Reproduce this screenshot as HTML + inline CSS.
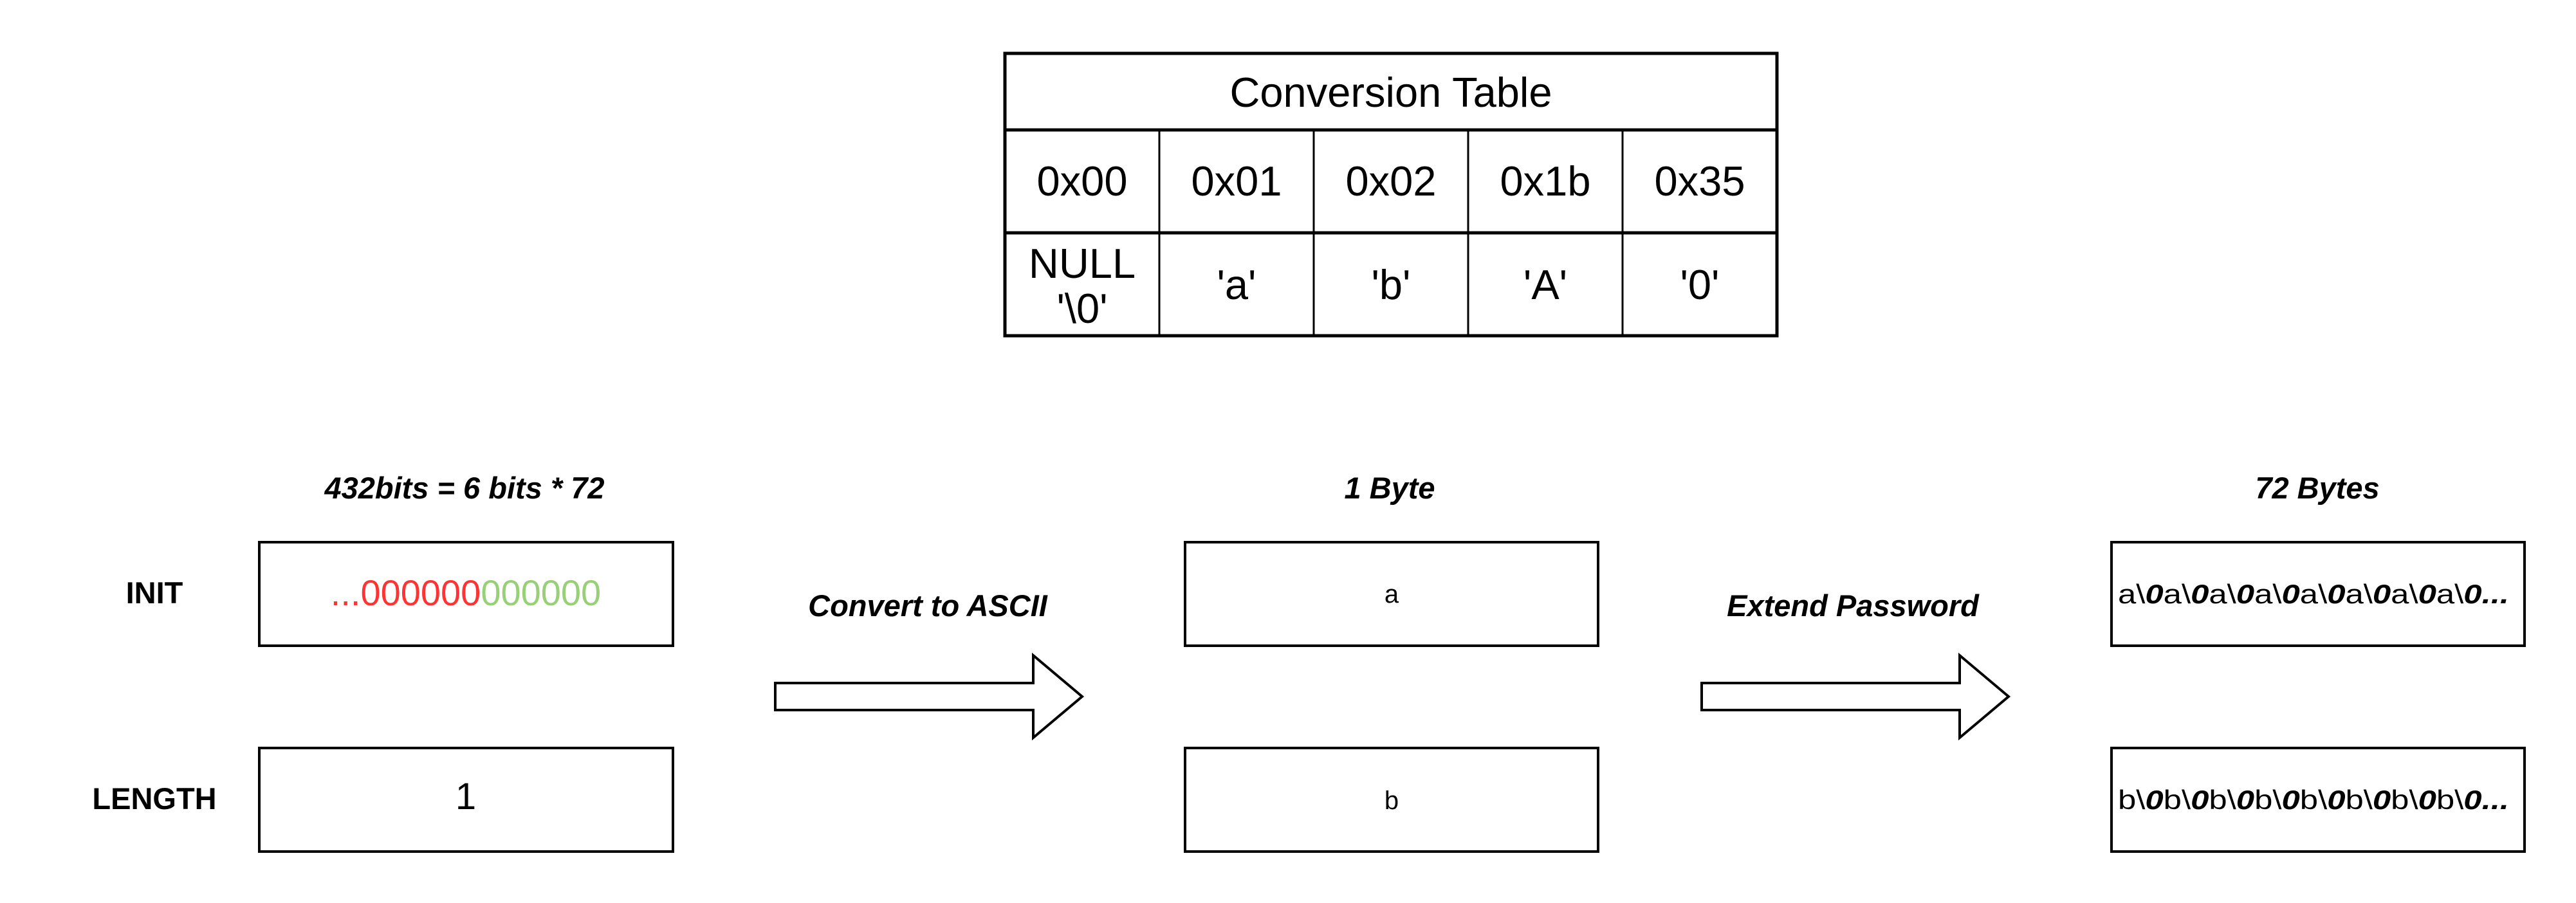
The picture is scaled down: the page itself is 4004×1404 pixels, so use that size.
<!DOCTYPE html>
<html><head><meta charset="utf-8"><style>
html,body{margin:0;padding:0;background:#fff;}
svg{display:block;}
text{font-family:"Liberation Sans",Arial,sans-serif;}
</style></head><body>
<svg width="4004" height="1404" viewBox="0 0 4004 1404" xmlns="http://www.w3.org/2000/svg">
<rect width="4004" height="1404" fill="#fff"/>
<g stroke="#000" fill="none">
<rect x="1562" y="83" width="1200" height="439" stroke-width="5"/>
<line x1="1562" y1="202" x2="2762" y2="202" stroke-width="5"/>
<line x1="1562" y1="362" x2="2762" y2="362" stroke-width="5"/>
<line x1="1802" y1="202" x2="1802" y2="522" stroke-width="3"/>
<line x1="2042" y1="202" x2="2042" y2="522" stroke-width="3"/>
<line x1="2282" y1="202" x2="2282" y2="522" stroke-width="3"/>
<line x1="2522" y1="202" x2="2522" y2="522" stroke-width="3"/>
</g>
<g font-size="65" text-anchor="middle" fill="#000">
<text x="2162" y="166">Conversion Table</text>
<text x="1682" y="304">0x00</text>
<text x="1922" y="304">0x01</text>
<text x="2162" y="304">0x02</text>
<text x="2402" y="304">0x1b</text>
<text x="2642" y="304">0x35</text>
<text x="1682" y="432">NULL</text>
<text x="1682" y="502">'\0'</text>
<text x="1922" y="465">'a'</text>
<text x="2162" y="465">'b'</text>
<text x="2402" y="465">'A'</text>
<text x="2642" y="465">'0'</text>
</g>
<g font-size="47" font-weight="bold" font-style="italic" text-anchor="middle" fill="#000">
<text x="722" y="775">432bits = 6 bits * 72</text>
<text x="2160" y="775">1 Byte</text>
<text x="3602" y="775">72 Bytes</text>
<text x="1442" y="958">Convert to ASCII</text>
<text x="2880" y="958">Extend Password</text>
</g>
<g font-size="47" font-weight="bold" text-anchor="middle" fill="#000">
<text x="240" y="938">INIT</text>
<text x="240" y="1258">LENGTH</text>
</g>
<g stroke="#000" stroke-width="4" fill="#fff">
<rect x="403" y="843" width="643" height="161"/>
<rect x="403" y="1163" width="643" height="161"/>
<rect x="1842" y="843" width="642" height="161"/>
<rect x="1842" y="1163" width="642" height="161"/>
<rect x="3282" y="843" width="642" height="161"/>
<rect x="3282" y="1163" width="642" height="161"/>
</g>
<text x="724" y="941" font-size="56" text-anchor="middle"><tspan fill="#ff3333">...000000</tspan><tspan fill="#97d077">000000</tspan></text>
<text x="724" y="1258" font-size="58" text-anchor="middle" font-family="Liberation Mono,monospace">1</text>
<text x="2163" y="937" font-size="40" text-anchor="middle">a</text>
<text x="2163" y="1258" font-size="40" text-anchor="middle">b</text>
<text x="3292" y="938" font-size="42" textLength="608" lengthAdjust="spacingAndGlyphs">a\<tspan font-weight="bold" font-style="italic">0</tspan>a\<tspan font-weight="bold" font-style="italic">0</tspan>a\<tspan font-weight="bold" font-style="italic">0</tspan>a\<tspan font-weight="bold" font-style="italic">0</tspan>a\<tspan font-weight="bold" font-style="italic">0</tspan>a\<tspan font-weight="bold" font-style="italic">0</tspan>a\<tspan font-weight="bold" font-style="italic">0</tspan>a\<tspan font-weight="bold" font-style="italic">0...</tspan></text>
<text x="3292" y="1258" font-size="42" textLength="608" lengthAdjust="spacingAndGlyphs">b\<tspan font-weight="bold" font-style="italic">0</tspan>b\<tspan font-weight="bold" font-style="italic">0</tspan>b\<tspan font-weight="bold" font-style="italic">0</tspan>b\<tspan font-weight="bold" font-style="italic">0</tspan>b\<tspan font-weight="bold" font-style="italic">0</tspan>b\<tspan font-weight="bold" font-style="italic">0</tspan>b\<tspan font-weight="bold" font-style="italic">0</tspan>b\<tspan font-weight="bold" font-style="italic">0...</tspan></text>
<g stroke="#000" stroke-width="4" fill="#fff" stroke-linejoin="miter">
<polygon points="1205,1062 1606,1062 1606,1019 1682,1083 1606,1147 1606,1104 1205,1104"/>
<polygon points="2645,1062 3046,1062 3046,1019 3122,1083 3046,1147 3046,1104 2645,1104"/>
</g>
</svg>
</body></html>
